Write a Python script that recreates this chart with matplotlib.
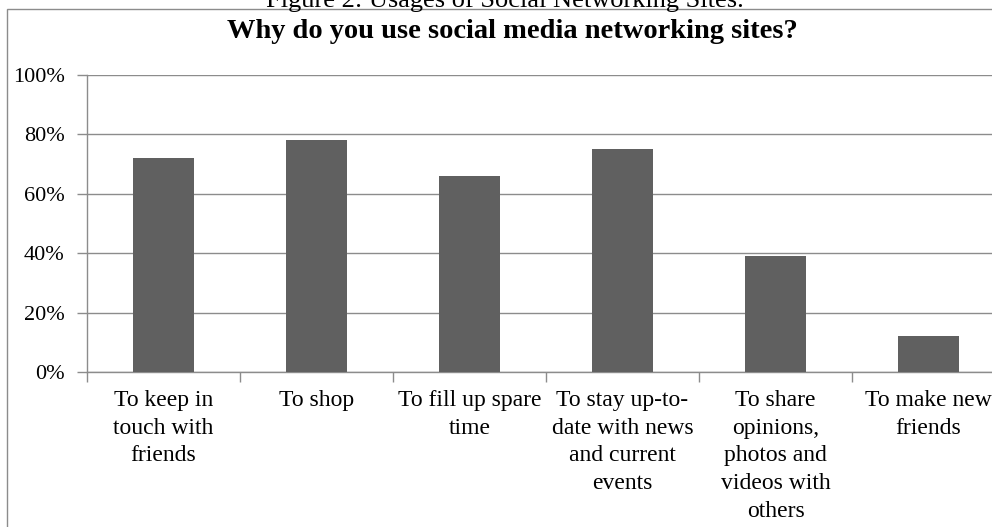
import matplotlib.pyplot as plt
from matplotlib.patches import Rectangle
from matplotlib.ticker import FixedLocator, PercentFormatter

plt.rcParams['font.family'] = ['Liberation Serif', 'DejaVu Serif']

# data
categories = [
    "To keep in\ntouch with\nfriends",
    "To shop",
    "To fill up spare\ntime",
    "To stay up-to-\ndate with news\nand current\nevents",
    "To share\nopinions,\nphotos and\nvideos with\nothers",
    "To make new\nfriends",
]
values = [72, 78, 66, 75, 39, 12]

W, H = 992, 527
fig = plt.figure(figsize=(W / 100, H / 100), dpi=100)

# axes runs past the right edge like in the cropped original
ax_left, ax_right, ax_top, ax_bottom = 87, 1005, 75, 372
ax = fig.add_axes([ax_left / W, 1 - ax_bottom / H,
                   (ax_right - ax_left) / W, (ax_bottom - ax_top) / H])

grey = "#8c8c8c"
x = list(range(len(categories)))
ax.bar(x, values, width=0.4, color="#606060", zorder=3)

ax.set_xlim(-0.5, len(categories) - 0.5)
ax.set_ylim(0, 100)
ax.set_yticks([0, 20, 40, 60, 80, 100])
ax.yaxis.set_major_formatter(PercentFormatter(decimals=0))
ax.grid(axis="y", color=grey, linewidth=1, zorder=0)

ax.set_xticks(x)
ax.set_xticklabels(categories, fontsize=17, linespacing=1.42, va="top")
ax.xaxis.set_minor_locator(FixedLocator([i - 0.5 for i in range(len(categories) + 1)]))
ax.tick_params(axis="x", which="major", length=0, pad=13)
ax.tick_params(axis="x", which="minor", length=7, color=grey, width=1)
ax.tick_params(axis="y", length=7, color=grey, width=1, labelsize=16, pad=9)

for s in ["top", "right"]:
    ax.spines[s].set_visible(False)
for s in ["left", "bottom"]:
    ax.spines[s].set_color(grey)
    ax.spines[s].set_linewidth(1)

# outer chart frame (cropped on the right and bottom)
fig.add_artist(Rectangle((7 / W, -0.1), 1.2, (H - 8.5) / H + 0.1,
                         transform=fig.transFigure, fill=False,
                         edgecolor=grey, linewidth=1))

fig.text(512 / W, 1 - 38 / H, "Why do you use social media networking sites?",
         ha="center", va="baseline", fontsize=20.5, fontweight="bold")
fig.text(505 / W, 1 - 6.5 / H, "Figure 2: Usages of Social Networking Sites.",
         ha="center", va="baseline", fontsize=19)

fig.savefig("out.png", dpi=100)
